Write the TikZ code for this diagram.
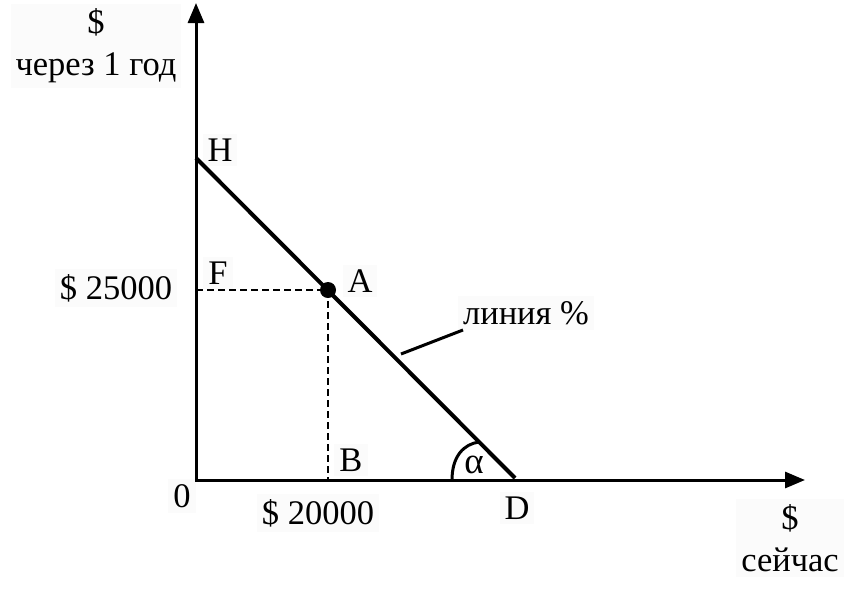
\documentclass[tikz,border=0pt]{standalone}
\usepackage{fontspec}
\setmainfont{Liberation Serif}
\usetikzlibrary{arrows.meta}

\tikzset{
  lbl/.style={fill=black!1.5,inner sep=5pt,align=center,font=\fontsize{34.5}{42}\selectfont},
  axis/.style={line width=3pt,{Triangle[length=20pt,width=16pt]}-{Triangle[length=20pt,width=16pt]}},
}

\begin{document}
\begin{tikzpicture}[x=1pt,y=-1pt]
  \useasboundingbox (0,0) rectangle (848,590);

  % Подписи
  \node[lbl] (ylab) at (96,46) {\$\\через 1 год};
  \node[lbl] (xlab) at (790,538) {\$\\сейчас};
  \node[lbl] (zero) at (182,496) {0};
  \node[lbl] (Hlab) at (220,150) {H};
  \node[lbl] (Flab) at (218,273) {F};
  \node[lbl] (Alab) at (360,281) {A};
  \node[lbl] (Blab) at (351,460) {B};
  \node[lbl] (Dlab) at (517,508) {D};
  \node[lbl] (y0) at (116,288) {\$ 25000};
  \node[lbl] (x0) at (318,513) {\$ 20000};
  \node[lbl] (pct) at (526,313) {линия \%};

  % Оси
  \coordinate (O) at (196,480);
  \coordinate (Ytip) at (196,3);
  \coordinate (Xtip) at (805,480);
  \draw[axis,line join=miter] (Ytip) -- (O) -- (Xtip);

  % Линия %
  \coordinate (H) at (196,158);
  \coordinate (D) at (515,478);
  \coordinate (A) at (328,290);
  \coordinate (F) at (196,290);
  \coordinate (B) at (328,480);
  \draw[line width=4pt] (H) -- (D);
  \coordinate (L1) at (401,354);
  \coordinate (L2) at (463,330);
  \draw[line width=3pt] (L1) -- (L2);

  % Точка A
  \draw[dashed,line width=1.5pt,dash pattern=on 7pt off 4pt] (F) -- (A) -- (B);
  \fill (A) circle (8pt);

  % Угол альфа
  \draw[line width=3pt] (452,480) .. controls (452,456) and (464,444) .. (479,442);
  \node[font=\fontsize{37}{40}\selectfont] (alpha) at (474,465) {α};
\end{tikzpicture}
\end{document}
